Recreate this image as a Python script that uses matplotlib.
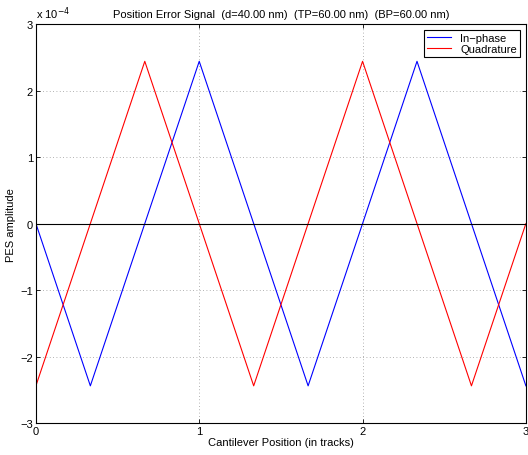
import matplotlib
matplotlib.use("Agg")
import matplotlib.pyplot as plt

plt.rcParams['font.family'] = ['Liberation Sans', 'DejaVu Sans']
plt.rcParams['font.size'] = 8

# peaks of the two PES signals
pos_inphase = [0, 1/3, 1, 5/3, 7/3, 3]
pes_inphase = [0, -2.44e-4, 2.44e-4, -2.44e-4, 2.44e-4, -2.44e-4]
pos_quad = [0, 2/3, 4/3, 2, 8/3, 3]
pes_quad = [-2.44e-4, 2.44e-4, -2.44e-4, 2.44e-4, -2.44e-4, 0]
xticks = [0, 1, 2, 3]
yticks = [-3e-4, -2e-4, -1e-4, 0, 1e-4, 2e-4, 3e-4]
yticklabels = ['\u22123', '\u22122', '\u22121', '0', '1', '2', '3']

fig = plt.figure(figsize=(5.28, 4.56), dpi=100)
ax = fig.add_axes([0.068, 0.070, 0.928, 0.875])

ax.plot(pos_inphase, pes_inphase, color='blue', lw=0.8, label='In\u2212phase')
ax.plot(pos_quad, pes_quad, color='red', lw=0.8, label='Quadrature')
ax.axhline(0, color='black', lw=0.8)

ax.set_xlim(0, 3)
ax.set_ylim(-3e-4, 3e-4)
ax.set_xticks(xticks)
ax.set_xticklabels([str(t) for t in xticks])
ax.set_yticks(yticks)
ax.set_yticklabels(yticklabels)
ax.tick_params(direction='in', length=3, width=0.6, top=True, right=True, pad=2)
ax.grid(True, linestyle=(0, (1, 3)), color='#999999', lw=0.6)
for s in ax.spines.values():
    s.set_linewidth(0.8)

ax.text(0.0, 1.008, 'x 10$^{-4}$', transform=ax.transAxes, ha='left', va='bottom', fontsize=8)
ax.set_title('Position Error Signal  (d=40.00 nm)  (TP=60.00 nm)  (BP=60.00 nm)', fontsize=8, pad=5)
ax.set_xlabel('Cantilever Position (in tracks)', labelpad=1)
ax.set_ylabel('PES amplitude', labelpad=3)

leg = ax.legend(loc='upper right', fancybox=False, framealpha=1, edgecolor='black',
                borderpad=0.3, handlelength=2.2, labelspacing=0.1, borderaxespad=0.5)
leg.get_frame().set_linewidth(0.8)

fig.savefig('out.png', dpi=100)
